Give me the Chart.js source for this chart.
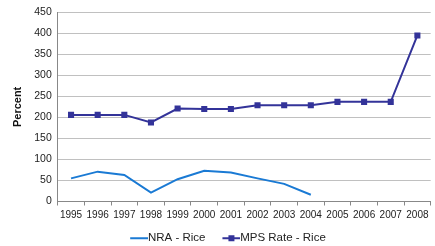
<!DOCTYPE html>
<html>
<head>
<meta charset="utf-8">
<script src="https://cdn.jsdelivr.net/npm/chart.js@4/dist/chart.umd.min.js"></script>
<style>
  html, body { margin: 0; padding: 0; background: #fff; }
  #wrap { width: 435px; height: 246px; }
</style>
</head>
<body>
<div id="wrap"><canvas id="grafico"></canvas></div>
<script>
/* Años */
var anios = ['1995', '1996', '1997', '1998', '1999', '2000', '2001', '2002', '2003', '2004', '2005', '2006', '2007', '2008'];

/* Series */
var nraArroz = [55, 71, 63, 21, 53, 73, 69, 55, 42, 16, null, null, null, null];
var mpsArroz = [206, 206, 206, 188, 221, 220, 220, 229, 229, 229, 237, 237, 237, 395];

var colorNra = '#1a7ad4';
var colorMps = '#333399';

/* Iconos de la leyenda: línea sola y línea con cuadrado (margen transparente a la izquierda) */
function icono(color, conCuadrado) {
    var c = document.createElement('canvas');
    c.width = 34; c.height = 10;
    var g = c.getContext('2d');
    g.strokeStyle = color;
    g.lineWidth = 2;
    g.beginPath(); g.moveTo(16, 5); g.lineTo(34, 5); g.stroke();
    if (conCuadrado) {
        g.fillStyle = color;
        g.fillRect(22, 2, 6, 6);
    }
    return c;
}

/* Ajuste de la altura de la leyenda */
var ajusteLeyenda = {
    id: 'ajusteLeyenda',
    beforeInit: function (chart) {
        var fitOriginal = chart.legend.fit;
        chart.legend.fit = function () {
            fitOriginal.call(this);
            this.height -= 8;
        };
    }
};

var marco = document.getElementById('grafico').getContext('2d');

var grafico = new Chart(marco, {
    type: 'line',
    data: {
        labels: anios,
        datasets: [{
            label: 'NRA - Rice',
            data: nraArroz,
            borderColor: colorNra,
            backgroundColor: colorNra,
            borderWidth: 2,
            pointRadius: 0,
            tension: 0,
            fill: false
        },
        {
            label: 'MPS Rate - Rice',
            data: mpsArroz,
            borderColor: colorMps,
            backgroundColor: colorMps,
            borderWidth: 2,
            pointStyle: 'rect',
            pointRadius: 4.3,
            pointBorderWidth: 0,
            tension: 0,
            fill: false
        }]
    },
    plugins: [ajusteLeyenda],
    options: {
        responsive: true,
        maintainAspectRatio: false,
        animation: false,
        layout: { padding: { top: 4, right: -4, left: 7, bottom: 0 } },
        plugins: {
            tooltip: { enabled: false },
            legend: {
                position: 'bottom',
                labels: {
                    usePointStyle: true,
                    pointStyleWidth: 22,
                    color: '#222',
                    font: { family: 'Liberation Sans, Arial', size: 11.5 },
                    padding: 7,
                    generateLabels: function (chart) {
                        return chart.data.datasets.map(function (ds, i) {
                            return {
                                text: ds.label,
                                pointStyle: icono(ds.borderColor, i === 1),
                                fillStyle: ds.borderColor,
                                strokeStyle: ds.borderColor,
                                lineWidth: 0,
                                datasetIndex: i,
                                fontColor: '#222'
                            };
                        });
                    }
                }
            }
        },
        scales: {
            y: {
                min: 0,
                max: 450,
                ticks: {
                    stepSize: 50,
                    color: '#222',
                    padding: 6,
                    font: { family: 'Liberation Sans, Arial', size: 10.5 }
                },
                grid: {
                    color: '#c0c0c0',
                    drawTicks: false
                },
                border: { color: '#888', width: 1 },
                title: {
                    display: true,
                    text: 'Percent',
                    color: '#111',
                    font: { family: 'Liberation Sans, Arial', size: 11, weight: 'bold' },
                    padding: 4
                }
            },
            x: {
                offset: true,
                grid: {
                    offset: true,
                    drawOnChartArea: false,
                    color: '#888',
                    tickLength: 4
                },
                border: { color: '#888', width: 1 },
                ticks: {
                    color: '#222',
                    maxRotation: 0,
                    autoSkip: false,
                    padding: 4,
                    font: { family: 'Liberation Sans, Arial', size: 10 }
                }
            }
        }
    }
});
</script>
</body>
</html>
